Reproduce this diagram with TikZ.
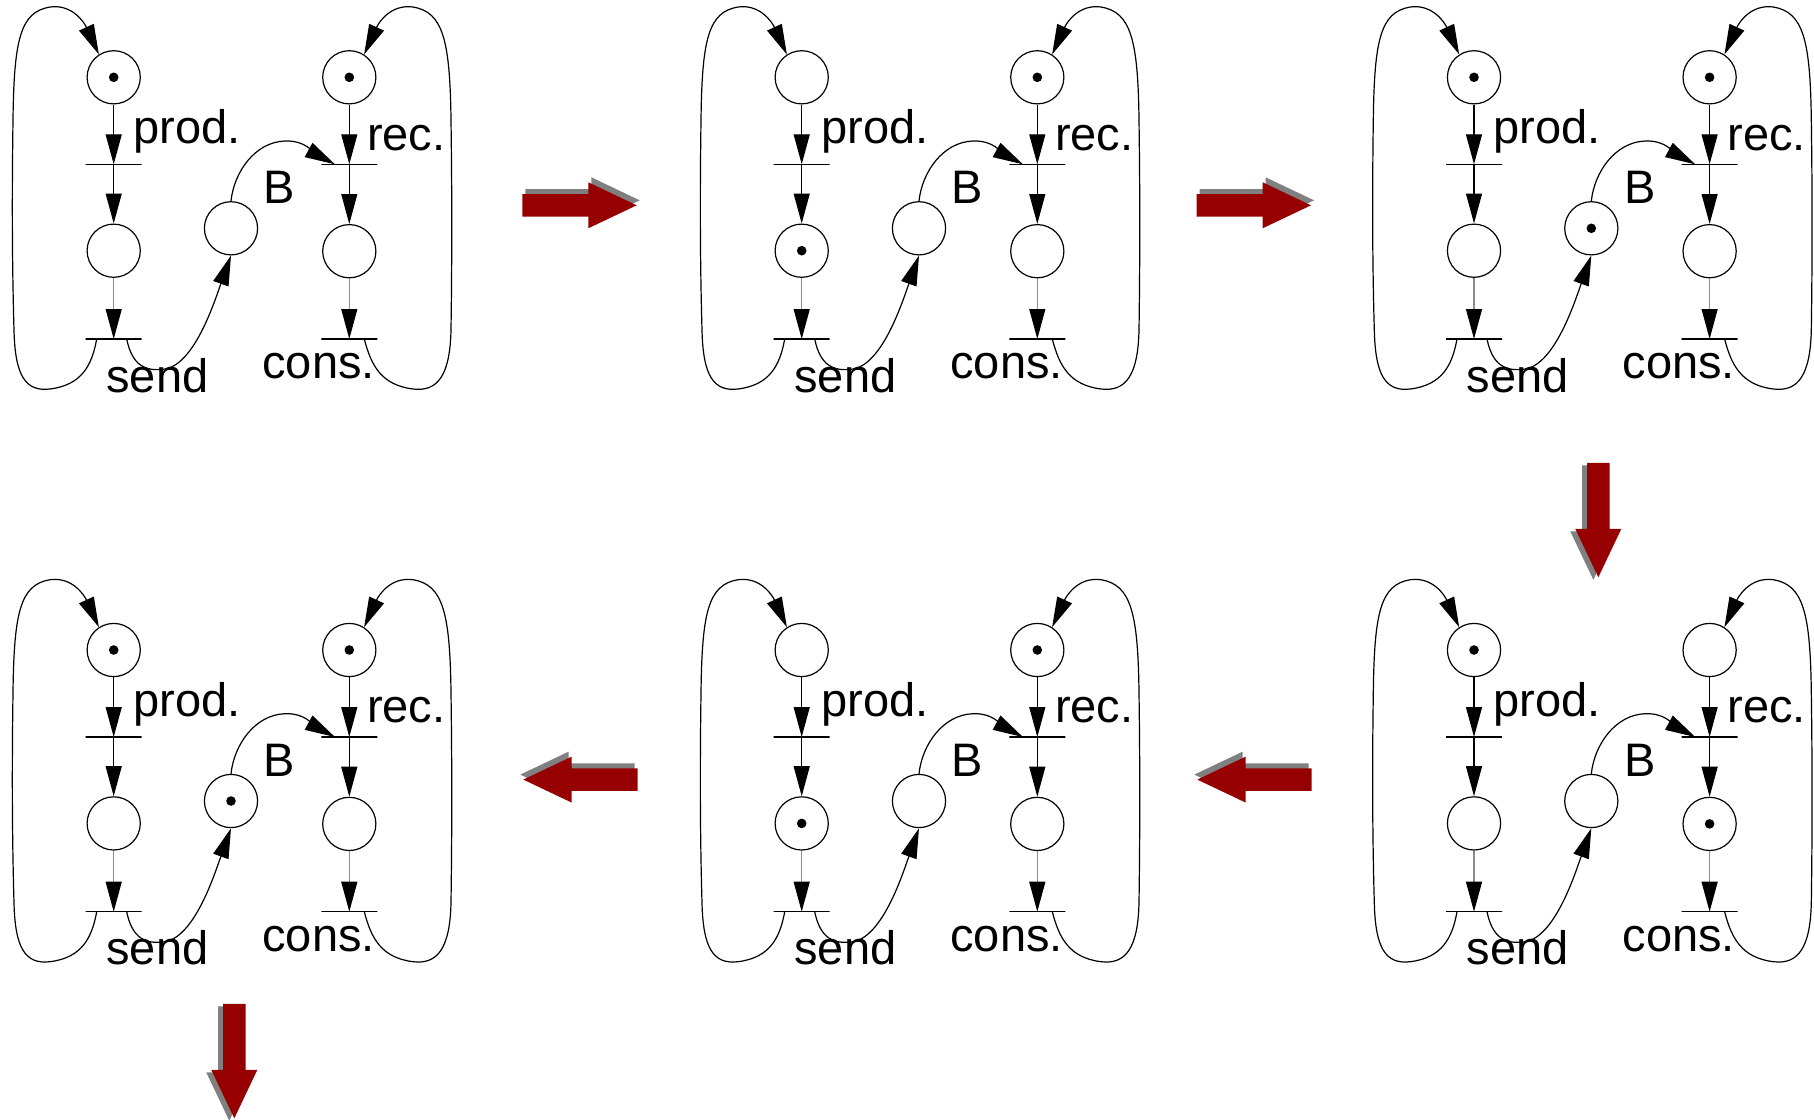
\documentclass[tikz,border=0pt]{standalone}
\usepackage{fontspec}
\setmainfont{Liberation Sans}
\usetikzlibrary{arrows.meta}
\definecolor{fwdred}{RGB}{150,0,0}
\definecolor{shadowgray}{RGB}{128,128,128}
\tikzset{
  pplace/.style={circle, draw, line width=0.6pt, minimum size=26.6pt, inner sep=0pt},
  ptrans/.style={rectangle, draw, line width=0.6pt, minimum width=28pt, minimum height=0pt, inner sep=0pt, outer sep=0pt},
  flow/.style={line width=0.6pt, -{Triangle[length=15pt,width=8pt,color=black]}},
  dimflow/.style={flow, draw=black!45},
  lbl/.style={inner sep=0pt, anchor=base west, font=\fontsize{23.5}{28}\selectfont},
  tok/.style={fill=black},
  bigarrow/.style={fill=fwdred},
  bigshadow/.style={fill=shadowgray},
}
% one producer/consumer net: #1 name prefix, #2,#3 offset, #4 marked places
\newcommand{\prodcons}[4]{%
  \begin{scope}[shift={(#2,#3)}]
    \node[pplace] (#1pa) at (113.7,77.3) {};
    \node[pplace] (#1pb) at (113.7,250.7) {};
    \node[pplace] (#1pc) at (349.3,77.3) {};
    \node[pplace] (#1pd) at (349.3,251.2) {};
    \node[pplace] (#1pe) at (231,228.3) {};
    \node[ptrans] (#1tp) at (113.7,164.3) {};
    \node[ptrans] (#1ts) at (113.7,339) {};
    \node[ptrans] (#1tr) at (349.3,164.3) {};
    \node[ptrans] (#1tc) at (349.3,339) {};
    \node[lbl] (#1lp) at (133,143.3) {prod.};
    \node[lbl] (#1lr) at (366.7,150) {rec.};
    \node[lbl] (#1lb) at (263.3,203.3) {B};
    \node[lbl] (#1ls) at (106,392) {send};
    \node[lbl] (#1lc) at (262,378.3) {cons.};
    \draw[flow] (#1pa) -- (#1tp);
    \draw[flow] (#1tp) -- (#1pb);
    \draw[dimflow] (#1pb) -- (#1ts);
    \draw[flow] (#1pc) -- (#1tr);
    \draw[flow] (#1tr) -- (#1pd);
    \draw[dimflow] (#1pd) -- (#1tc);
    % producer loop
    \draw[flow] ([xshift=-8.5pt]#1ts.center)
      .. controls (92,365) and (82,385) .. (50,389)
      .. controls (25,392) and (15,375) .. (14,330)
      .. controls (12,260) and (12,190) .. (13,120)
      .. controls (14,40) and (20,12) .. (50,7)
      .. controls (72,4) and (84,22) .. (#1pa.123);
    % consumer loop
    \draw[flow] ([xshift=7.5pt]#1tc.center)
      .. controls (371,365) and (381,385) .. (413,389)
      .. controls (438,392) and (450,375) .. (451,330)
      .. controls (452,260) and (452,190) .. (451,120)
      .. controls (450,40) and (443,12) .. (413,7)
      .. controls (391,4) and (379,22) .. (#1pc.57);
    % buffer arcs
    \draw[flow] ([xshift=6.5pt]#1ts.center)
      .. controls (132,365) and (145,372) .. (165,369)
      .. controls (195,364) and (215,300) .. (#1pe.south);
    \draw[flow] (#1pe.north)
      .. controls (234,172) and (255,142) .. (285,141)
      .. controls (305,140) and (316,154) .. ([xshift=-7.2pt]#1tr.center);
    \foreach \t in {#4} {\fill[tok] (#1\t) circle[radius=2.4pt];}
  \end{scope}}
% block arrow with drop shadow: #1 tip x, #2 tip y, #3 angle, #4 shadow offset
\newcommand{\stepmark}[4]{%
  \begin{scope}[shift={(#1,#2)}]
    \fill[bigshadow, shift={#4}, rotate=#3]
      (-114.4,-11.2) -- (-48.4,-11.2) -- (-48.4,-23) -- (0,0)
      -- (-48.4,23) -- (-48.4,11.2) -- (-114.4,11.2) -- cycle;
    \fill[bigarrow, rotate=#3]
      (-114.4,-11.2) -- (-48.4,-11.2) -- (-48.4,-23) -- (0,0)
      -- (-48.4,23) -- (-48.4,11.2) -- (-114.4,11.2) -- cycle;
  \end{scope}}
\begin{document}
\begin{tikzpicture}[x=0.5pt,y=-0.5pt]
  \useasboundingbox (0,0) rectangle (1814,1119);
  \prodcons{a}{0}{0}{pa,pc}
  \prodcons{b}{688}{0}{pb,pc}
  \prodcons{c}{1360.3}{0}{pa,pc,pe}
  \prodcons{d}{1360.3}{572.7}{pa,pd}
  \prodcons{e}{688}{572.7}{pb,pc}
  \prodcons{f}{0}{572.7}{pa,pc,pe}
  \stepmark{636.7}{205.3}{0}{(3,-5)}
  \stepmark{1311}{205.3}{0}{(3,-5)}
  \stepmark{1598.3}{577.3}{-90}{(-5,2.5)}
  \stepmark{1197.3}{779.6}{180}{(-3,-5)}
  \stepmark{523.3}{779.6}{180}{(-3,-5)}
  \stepmark{234.3}{1118.3}{-90}{(-5,2.5)}
\end{tikzpicture}
\end{document}
